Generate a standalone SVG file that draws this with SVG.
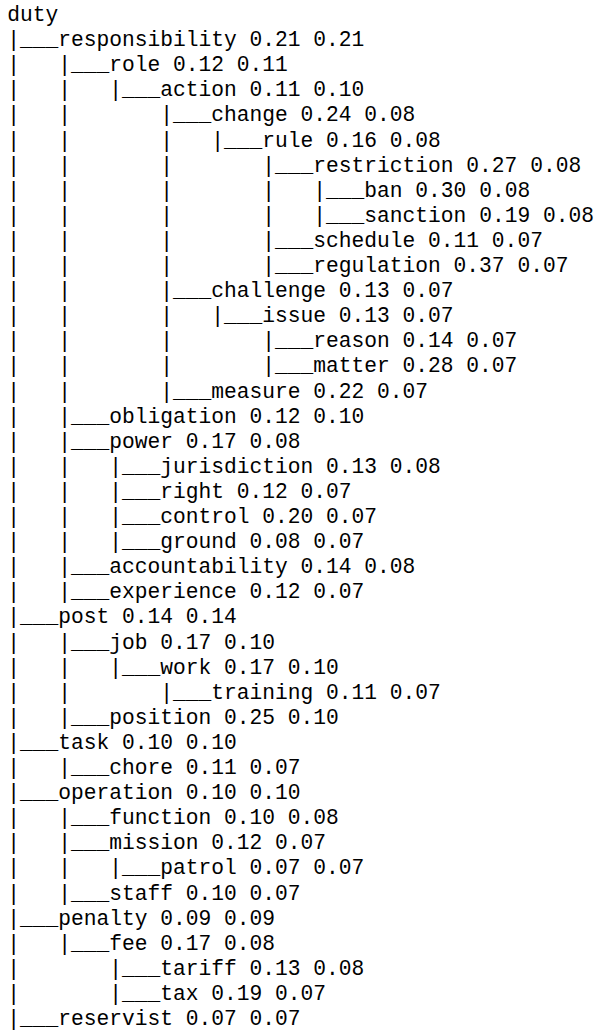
<svg xmlns="http://www.w3.org/2000/svg" width="597" height="1036" viewBox="0 0 597 1036">
<style>
text{font-family:"Liberation Mono","Courier New",monospace;font-size:21.25px;fill:#000;white-space:pre}
</style>
<rect width="597" height="1036" fill="#fff"/>
<g id="connectors" xml:space="preserve">
<text x="7.3" y="46.1">|___</text>
<text x="7.3" y="71.2">|   |___</text>
<text x="7.3" y="96.3">|   |   |___</text>
<text x="7.3" y="121.4">|   |       |___</text>
<text x="7.3" y="146.5">|   |       |   |___</text>
<text x="7.3" y="171.6">|   |       |       |___</text>
<text x="7.3" y="196.7">|   |       |       |   |___</text>
<text x="7.3" y="221.8">|   |       |       |   |___</text>
<text x="7.3" y="246.9">|   |       |       |___</text>
<text x="7.3" y="272">|   |       |       |___</text>
<text x="7.3" y="297.1">|   |       |___</text>
<text x="7.3" y="322.2">|   |       |   |___</text>
<text x="7.3" y="347.3">|   |       |       |___</text>
<text x="7.3" y="372.4">|   |       |       |___</text>
<text x="7.3" y="397.5">|   |       |___</text>
<text x="7.3" y="422.6">|   |___</text>
<text x="7.3" y="447.7">|   |___</text>
<text x="7.3" y="472.8">|   |   |___</text>
<text x="7.3" y="497.9">|   |   |___</text>
<text x="7.3" y="523">|   |   |___</text>
<text x="7.3" y="548.1">|   |   |___</text>
<text x="7.3" y="573.2">|   |___</text>
<text x="7.3" y="598.3">|   |___</text>
<text x="7.3" y="623.4">|___</text>
<text x="7.3" y="648.5">|   |___</text>
<text x="7.3" y="673.6">|   |   |___</text>
<text x="7.3" y="698.7">|   |       |___</text>
<text x="7.3" y="723.8">|   |___</text>
<text x="7.3" y="748.9">|___</text>
<text x="7.3" y="774">|   |___</text>
<text x="7.3" y="799.1">|___</text>
<text x="7.3" y="824.2">|   |___</text>
<text x="7.3" y="849.3">|   |___</text>
<text x="7.3" y="874.4">|   |   |___</text>
<text x="7.3" y="899.5">|   |___</text>
<text x="7.3" y="924.6">|___</text>
<text x="7.3" y="949.7">|   |___</text>
<text x="7.3" y="974.8">|       |___</text>
<text x="7.3" y="999.9">|       |___</text>
<text x="7.3" y="1025">|___</text>
</g>
<g id="n-duty"><text x="7.3" y="21">duty</text></g>
<g id="n-responsibility"><text x="58.31" y="46.1">responsibility 0.21 0.21</text></g>
<g id="n-role"><text x="109.32" y="71.2">role 0.12 0.11</text></g>
<g id="n-action"><text x="160.32" y="96.3">action 0.11 0.10</text></g>
<g id="n-change"><text x="211.33" y="121.4">change 0.24 0.08</text></g>
<g id="n-rule"><text x="262.34" y="146.5">rule 0.16 0.08</text></g>
<g id="n-restriction"><text x="313.35" y="171.6">restriction 0.27 0.08</text></g>
<g id="n-ban"><text x="364.36" y="196.7">ban 0.30 0.08</text></g>
<g id="n-sanction"><text x="364.36" y="221.8">sanction 0.19 0.08</text></g>
<g id="n-schedule"><text x="313.35" y="246.9">schedule 0.11 0.07</text></g>
<g id="n-regulation"><text x="313.35" y="272">regulation 0.37 0.07</text></g>
<g id="n-challenge"><text x="211.33" y="297.1">challenge 0.13 0.07</text></g>
<g id="n-issue"><text x="262.34" y="322.2">issue 0.13 0.07</text></g>
<g id="n-reason"><text x="313.35" y="347.3">reason 0.14 0.07</text></g>
<g id="n-matter"><text x="313.35" y="372.4">matter 0.28 0.07</text></g>
<g id="n-measure"><text x="211.33" y="397.5">measure 0.22 0.07</text></g>
<g id="n-obligation"><text x="109.32" y="422.6">obligation 0.12 0.10</text></g>
<g id="n-power"><text x="109.32" y="447.7">power 0.17 0.08</text></g>
<g id="n-jurisdiction"><text x="160.32" y="472.8">jurisdiction 0.13 0.08</text></g>
<g id="n-right"><text x="160.32" y="497.9">right 0.12 0.07</text></g>
<g id="n-control"><text x="160.32" y="523">control 0.20 0.07</text></g>
<g id="n-ground"><text x="160.32" y="548.1">ground 0.08 0.07</text></g>
<g id="n-accountability"><text x="109.32" y="573.2">accountability 0.14 0.08</text></g>
<g id="n-experience"><text x="109.32" y="598.3">experience 0.12 0.07</text></g>
<g id="n-post"><text x="58.31" y="623.4">post 0.14 0.14</text></g>
<g id="n-job"><text x="109.32" y="648.5">job 0.17 0.10</text></g>
<g id="n-work"><text x="160.32" y="673.6">work 0.17 0.10</text></g>
<g id="n-training"><text x="211.33" y="698.7">training 0.11 0.07</text></g>
<g id="n-position"><text x="109.32" y="723.8">position 0.25 0.10</text></g>
<g id="n-task"><text x="58.31" y="748.9">task 0.10 0.10</text></g>
<g id="n-chore"><text x="109.32" y="774">chore 0.11 0.07</text></g>
<g id="n-operation"><text x="58.31" y="799.1">operation 0.10 0.10</text></g>
<g id="n-function"><text x="109.32" y="824.2">function 0.10 0.08</text></g>
<g id="n-mission"><text x="109.32" y="849.3">mission 0.12 0.07</text></g>
<g id="n-patrol"><text x="160.32" y="874.4">patrol 0.07 0.07</text></g>
<g id="n-staff"><text x="109.32" y="899.5">staff 0.10 0.07</text></g>
<g id="n-penalty"><text x="58.31" y="924.6">penalty 0.09 0.09</text></g>
<g id="n-fee"><text x="109.32" y="949.7">fee 0.17 0.08</text></g>
<g id="n-tariff"><text x="160.32" y="974.8">tariff 0.13 0.08</text></g>
<g id="n-tax"><text x="160.32" y="999.9">tax 0.19 0.07</text></g>
<g id="n-reservist"><text x="58.31" y="1025">reservist 0.07 0.07</text></g>
</svg>
